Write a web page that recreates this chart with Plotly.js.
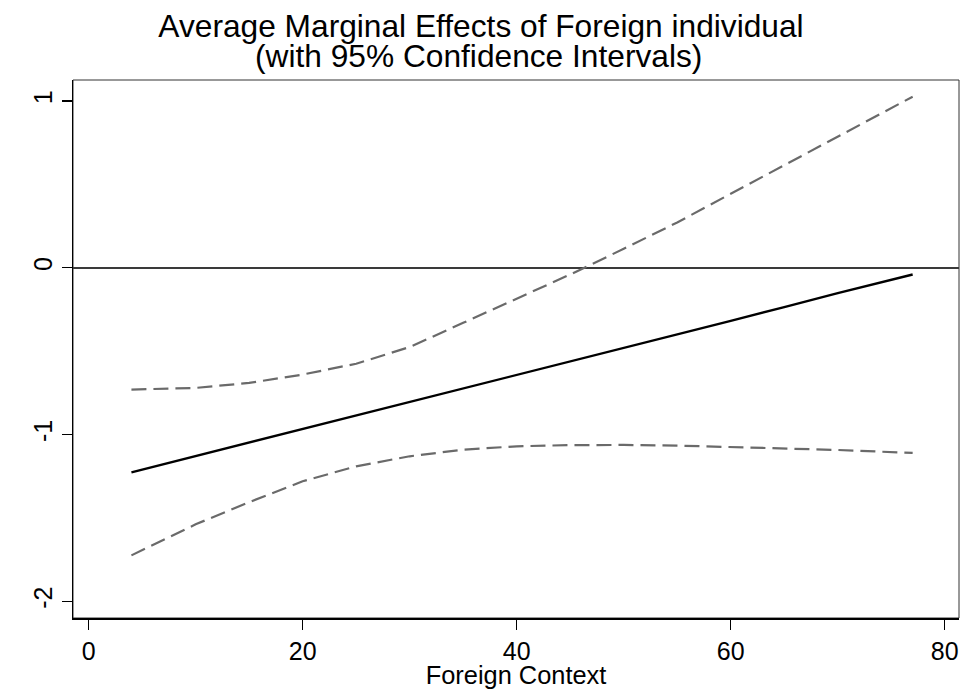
<!DOCTYPE html>
<html>
<head>
<meta charset="utf-8">
<script src="https://cdn.plot.ly/plotly-3.0.1.min.js"></script>
<style>html,body{margin:0;padding:0;background:#fff;}#chart{width:962px;height:689px;}</style>
</head>
<body>
<div id="chart"></div>
<script>
// Data
const foreignContext = [4, 10, 15, 20, 25, 30, 35, 40, 45, 50, 55, 60, 65, 70, 77];
const ame            = [-1.226, -1.129, -1.048, -0.968, -0.887, -0.806, -0.725, -0.645, -0.562, -0.481, -0.400, -0.318, -0.236, -0.152, -0.040];
const upperCI        = [-0.730, -0.720, -0.690, -0.640, -0.575, -0.475, -0.330, -0.186, -0.040, 0.114, 0.272, 0.444, 0.615, 0.786, 1.026];
const lowerCI        = [-1.724, -1.538, -1.405, -1.280, -1.190, -1.130, -1.090, -1.070, -1.063, -1.062, -1.066, -1.075, -1.086, -1.092, -1.110];
const xTicks = [0, 20, 40, 60, 80];
const yTicks = [-2, -1, 0, 1];
const titleLine1 = "Average Marginal Effects of Foreign individual";
const titleLine2 = "(with 95% Confidence Intervals)";
const xTitle = "Foreign Context";

const FONT = "Liberation Sans, Arial, Helvetica, sans-serif";
const dashStyle = "15px,7px";

const traces = [
  {x: foreignContext, y: upperCI, mode: "lines", line: {color: "#6a6a6a", width: 2.2, dash: dashStyle}, name: "Upper 95% CI"},
  {x: foreignContext, y: lowerCI, mode: "lines", line: {color: "#6a6a6a", width: 2.2, dash: dashStyle}, name: "Lower 95% CI"},
  {x: foreignContext, y: ame, mode: "lines", line: {color: "#000000", width: 2.4}, name: "AME"}
];

const layout = {
  width: 962, height: 689,
  margin: {l: 73, r: 3, t: 80, b: 71, pad: 0},
  paper_bgcolor: "#ffffff", plot_bgcolor: "#ffffff",
  showlegend: false,
  font: {family: FONT, color: "#000000", size: 25},
  title: {text: titleLine1, x: 0.5, xref: "container", xanchor: "center", y: 0.9617, yref: "container", yanchor: "middle", font: {family: FONT, size: 31.7, color: "#000000"}},
  annotations: [
    {text: titleLine2, xref: "paper", yref: "paper", x: (478 - 73) / 886, y: 1.045, xanchor: "center", yanchor: "middle", showarrow: false, font: {family: FONT, size: 31.7, color: "#000000"}}
  ],
  xaxis: {
    range: [-1.46, 81.33], tickvals: xTicks, ticktext: xTicks.map(String),
    ticks: "outside", ticklen: 10, tickwidth: 1.3, tickcolor: "#000",
    showline: true, linecolor: "#000", linewidth: 1.5, showgrid: false, zeroline: false,
    tickfont: {family: FONT, size: 25, color: "#000"},
    title: {text: xTitle, font: {family: FONT, size: 25.4, color: "#000"}, standoff: 2}
  },
  yaxis: {
    range: [-2.0995, 1.126], tickvals: yTicks, ticktext: yTicks.map(String),
    ticks: "outside", ticklen: 10, tickwidth: 1.3, tickcolor: "#000", tickangle: -90,
    showline: true, linecolor: "#000", linewidth: 1.5, showgrid: false,
    zeroline: true, zerolinecolor: "#3a3a3a", zerolinewidth: 2,
    tickfont: {family: FONT, size: 25, color: "#000"}
  },
  shapes: [
    {type: "rect", xref: "paper", yref: "paper", x0: 0, x1: 1, y0: 0, y1: 1, line: {color: "#333333", width: 1}, layer: "below"}
  ]
};

Plotly.newPlot("chart", traces, layout, {staticPlot: true, displayModeBar: false});
</script>
</body>
</html>
